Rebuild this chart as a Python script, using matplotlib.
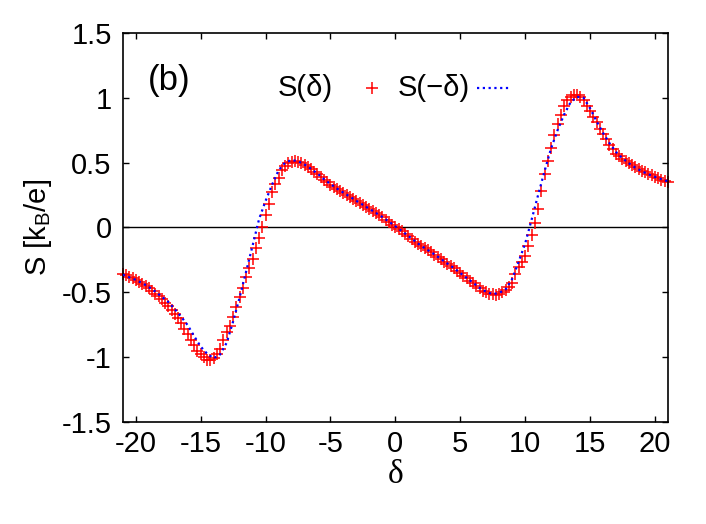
import numpy as np
import matplotlib.pyplot as plt
from matplotlib.lines import Line2D

plt.rcParams['font.family'] = ['Liberation Sans', 'DejaVu Sans']

# S(delta), red markers, delta from -21 to 21 in steps of 0.25
delta_s = np.arange(-21, 21.001, 0.25)
s_pos = [
    -0.36, -0.37, -0.38, -0.39, -0.405, -0.42, -0.435, -0.45,
    -0.465, -0.49, -0.51, -0.53, -0.55, -0.58, -0.605, -0.635,
    -0.665, -0.70, -0.74, -0.785, -0.825, -0.87, -0.91, -0.95,
    -0.98, -1.0, -1.02, -1.025, -1.01, -0.98, -0.935, -0.87,
    -0.81, -0.76, -0.69, -0.615, -0.54, -0.47, -0.38, -0.31,
    -0.24, -0.16, -0.085, 0.0, 0.095, 0.18, 0.27, 0.335,
    0.385, 0.44, 0.475, 0.495, 0.507, 0.51, 0.503, 0.494,
    0.48, 0.463, 0.447, 0.428, 0.41, 0.39, 0.367, 0.347,
    0.33, 0.313, 0.297, 0.28, 0.265, 0.25, 0.235, 0.219,
    0.203, 0.187, 0.172, 0.156, 0.141, 0.125, 0.11, 0.094,
    0.078, 0.06, 0.042, 0.022, 0.005, -0.012, -0.03, -0.05,
    -0.07, -0.09, -0.11, -0.13, -0.145, -0.16, -0.177, -0.193,
    -0.21, -0.227, -0.245, -0.263, -0.28, -0.297, -0.315, -0.335,
    -0.355, -0.373, -0.39, -0.41, -0.43, -0.45, -0.47, -0.487,
    -0.5, -0.51, -0.517, -0.518, -0.512, -0.5, -0.485, -0.462,
    -0.43, -0.36, -0.305, -0.27, -0.22, -0.145, -0.06, 0.035,
    0.145, 0.28, 0.415, 0.515, 0.615, 0.715, 0.795, 0.87,
    0.935, 0.98, 1.005, 1.02, 1.02, 1.01, 0.98, 0.94,
    0.9, 0.855, 0.81, 0.762, 0.72, 0.68, 0.638, 0.602,
    0.57, 0.548, 0.53, 0.513, 0.497, 0.48, 0.463, 0.45,
    0.438, 0.427, 0.415, 0.403, 0.39, 0.378, 0.367, 0.357,
    0.348,
]

# S(-delta), blue dotted line, delta from -21 to 21 in steps of 0.5
delta_m = np.arange(-21, 21.001, 0.5)
s_neg = [
    -0.365, -0.385, -0.405, -0.43, -0.46, -0.495, -0.535, -0.575,
    -0.63, -0.69, -0.755, -0.84, -0.92, -0.975, -1.01, -0.98,
    -0.89, -0.725, -0.54, -0.34, -0.14, 0.065, 0.205, 0.33,
    0.44, 0.50, 0.52, 0.511, 0.485, 0.452, 0.415, 0.372,
    0.335, 0.30, 0.268, 0.237, 0.205, 0.174, 0.143, 0.112,
    0.08, 0.045, 0.008, -0.028, -0.066, -0.105, -0.143, -0.175,
    -0.207, -0.243, -0.278, -0.313, -0.352, -0.39, -0.428, -0.467,
    -0.497, -0.515, -0.505, -0.478, -0.398, -0.265, -0.125, 0.06,
    0.25, 0.435, 0.61, 0.75, 0.87, 0.965, 1.008, 1.0,
    0.92, 0.82, 0.73, 0.65, 0.582, 0.533, 0.495, 0.46,
    0.433, 0.41, 0.39, 0.372, 0.355,
]

xticks = [-20, -15, -10, -5, 0, 5, 10, 15, 20]
yticks = [-1.5, -1, -0.5, 0, 0.5, 1, 1.5]
ytick_labels = ['-1.5', '-1', '-0.5', '0', '0.5', '1', '1.5']

fig = plt.figure(figsize=(7.06, 5.24), dpi=100)
ax = fig.add_axes([0.174, 0.195, 0.772, 0.742])

ax.axhline(0, color='black', lw=1.0, zorder=1)
ax.plot(delta_s, s_pos, ls='none', marker='+', ms=8.5, mew=1.1,
        color='#ff0000', zorder=2, clip_on=False)
ax.plot(delta_m, s_neg, ls=(0, (1, 1.6)), lw=1.6, color='#0000ff', zorder=3)

ax.set_xlim(-21, 21)
ax.set_ylim(-1.5, 1.5)
ax.set_xticks(xticks)
ax.set_xticklabels([str(t) for t in xticks])
ax.set_yticks(yticks)
ax.set_yticklabels(ytick_labels)
ax.tick_params(direction='in', length=4, width=1, top=True, right=True,
               labelsize=21)
ax.tick_params(axis='x', pad=6)
ax.tick_params(axis='y', pad=8)
for sp in ax.spines.values():
    sp.set_linewidth(1.2)

ax.set_xlabel('δ', fontsize=24, family=['Liberation Serif', 'DejaVu Serif'])
ax.xaxis.set_label_coords(0.5, -0.097)
ax.set_ylabel(r'S [k$_\mathregular{B}$/e]', fontsize=21)
ax.yaxis.set_label_coords(-0.127, 0.5)

ax.text(0.046, 0.879, '(b)', transform=ax.transAxes, fontsize=25, va='center')

# key, gnuplot style: text first, then the sample
ax.text(0.284, 0.859, 'S(δ)', transform=ax.transAxes, fontsize=21, va='center')
ax.add_line(Line2D([0.457], [0.859], transform=ax.transAxes, ls='none',
                   marker='+', ms=8.5, mew=1.1, color='#ff0000'))
ax.text(0.505, 0.859, 'S(−δ)', transform=ax.transAxes, fontsize=21, va='center')
ax.add_line(Line2D([0.650, 0.710], [0.859, 0.859], transform=ax.transAxes,
                   ls=(0, (1, 1.6)), lw=1.6, color='#0000ff'))

fig.savefig('out.png', dpi=100)
